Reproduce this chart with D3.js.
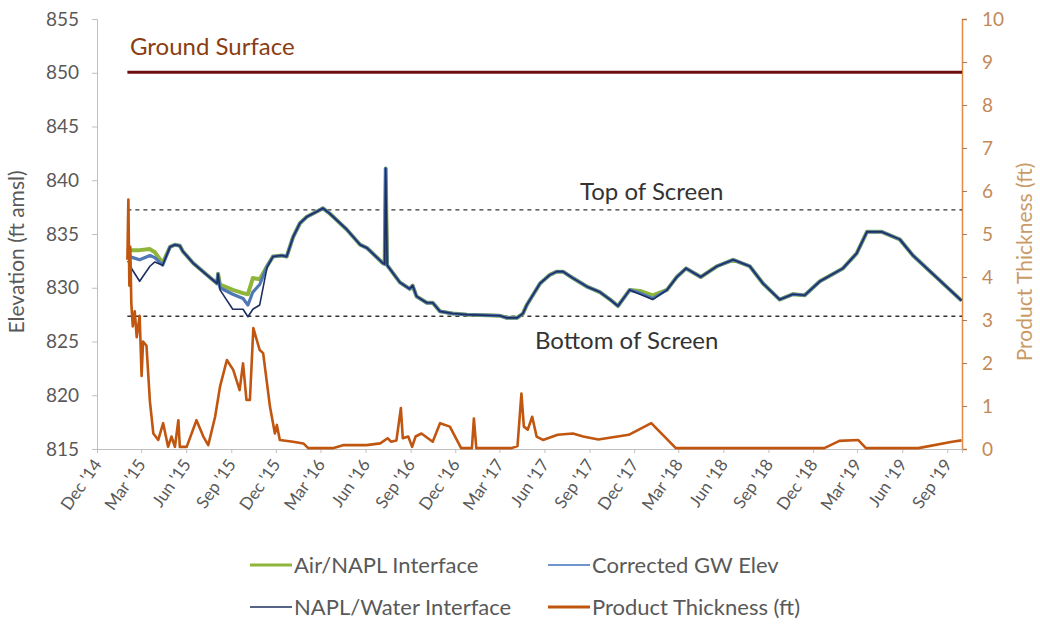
<!DOCTYPE html>
<html>
<head>
<meta charset="utf-8">
<script src="https://cdn.jsdelivr.net/npm/d3@7"></script>
<style>
  body { margin: 0; background: #fff; }
  svg { display: block; font-family: Lato, "Open Sans", sans-serif; }
</style>
</head>
<body>
<script>
// ---------------- DATA ----------------
const leftTicks = [815, 820, 825, 830, 835, 840, 845, 850, 855];
const rightTicks = [0, 1, 2, 3, 4, 5, 6, 7, 8, 9, 10];
const xTickDates = ["2014-12-01","2015-03-01","2015-06-01","2015-09-01","2015-12-01","2016-03-01","2016-06-01","2016-09-01","2016-12-01","2017-03-01","2017-06-01","2017-09-01","2017-12-01","2018-03-01","2018-06-01","2018-09-01","2018-12-01","2019-03-01","2019-06-01","2019-09-01"];

const refDates = ["2015-02-01", "2019-10-01"];
const groundSurface = [850.05, 850.05];
const topOfScreen = [837.25, 837.25];
const bottomOfScreen = [827.35, 827.35];

const gwDates = ["2015-02-02","2015-02-12","2015-02-26","2015-03-19","2015-03-29","2015-04-14","2015-04-29","2015-05-09","2015-05-19","2015-05-25",
"2015-06-15","2015-07-13","2015-08-03","2015-08-05","2015-08-09","2015-09-04","2015-09-25","2015-10-05","2015-10-15","2015-10-29",
"2015-11-13","2015-11-25","2015-12-13","2015-12-23","2016-01-05","2016-01-19","2016-02-02","2016-02-23","2016-03-06","2016-03-20",
"2016-04-24","2016-05-21","2016-06-04","2016-07-06","2016-07-10","2016-07-12","2016-07-15","2016-08-10","2016-08-30","2016-09-05",
"2016-09-13","2016-10-04","2016-10-16","2016-10-31","2016-11-26","2016-12-25","2017-03-02","2017-03-16","2017-04-06","2017-04-18",
"2017-04-26","2017-05-23","2017-06-12","2017-06-26","2017-07-09","2017-07-29","2017-08-27","2017-09-22","2017-10-13","2017-10-29",
"2017-11-22","2017-12-13","2018-01-08","2018-02-06","2018-02-26","2018-03-17","2018-04-16","2018-05-19","2018-06-21","2018-07-25",
"2018-08-21","2018-09-24","2018-10-21","2018-11-14","2018-12-15","2019-01-31","2019-02-28","2019-03-21","2019-04-20","2019-05-27",
"2019-06-23","2019-09-30"];

const airNaplInterface = [833.5,833.5,833.5,833.6,833.3,832.3,833.8,834.0,833.9,833.4,
832.3,831.2,830.4,831.3,830.3,829.8,829.5,829.4,830.9,830.8,
832.0,832.9,833.0,832.9,834.7,836.0,836.6,837.1,837.4,836.9,
835.4,834.0,833.7,832.3,832.2,841.1,832.1,830.5,829.9,830.2,
829.2,828.6,828.6,827.8,827.6,827.5,827.4,827.2,827.2,827.6,
828.4,830.4,831.2,831.5,831.5,830.9,830.1,829.6,828.9,828.3,
829.8,829.7,829.3,829.8,831.0,831.8,831.0,832.0,832.6,832.0,
830.4,828.9,829.4,829.3,830.6,831.8,833.2,835.2,835.2,834.5,
833.0,828.8];

const correctedGwElev = [833.0,832.8,832.6,833.0,832.8,832.1,833.8,834.0,833.9,833.4,
832.3,831.2,830.4,831.3,830.0,829.4,829.0,828.4,829.6,830.3,
832.0,832.9,833.0,832.9,834.7,836.0,836.6,837.1,837.4,836.9,
835.4,834.0,833.7,832.3,832.2,841.1,832.1,830.5,829.9,830.2,
829.2,828.6,828.6,827.8,827.6,827.5,827.4,827.2,827.2,827.6,
828.4,830.4,831.2,831.5,831.5,830.9,830.1,829.6,828.9,828.3,
829.8,829.5,829.0,829.8,831.0,831.8,831.0,832.0,832.6,832.0,
830.4,828.9,829.4,829.3,830.6,831.8,833.2,835.2,835.2,834.5,
833.0,828.8];

const naplWaterInterface = [832.5,831.6,830.6,832.0,832.4,832.1,833.8,834.0,833.9,833.4,
832.3,831.2,830.4,831.3,829.8,828.0,828.0,827.3,828.0,828.4,
831.9,832.9,833.0,832.9,834.7,836.0,836.6,837.1,837.4,836.9,
835.4,834.0,833.7,832.3,832.2,841.1,832.1,830.5,829.9,830.2,
829.2,828.6,828.6,827.8,827.6,827.5,827.4,827.2,827.2,827.6,
828.4,830.4,831.2,831.5,831.5,830.9,830.1,829.6,828.9,828.3,
829.8,829.4,828.9,829.8,831.0,831.8,831.0,832.0,832.6,832.0,
830.4,828.9,829.4,829.3,830.6,831.8,833.2,835.2,835.2,834.5,
833.0,828.8];

const ptDates = ["2015-02-01","2015-02-03","2015-02-05","2015-02-07","2015-02-09","2015-02-12","2015-02-16","2015-02-20","2015-02-26","2015-03-02",
"2015-03-05","2015-03-12","2015-03-19","2015-03-26","2015-04-05","2015-04-15","2015-04-25","2015-05-02","2015-05-09","2015-05-16",
"2015-05-19","2015-06-02","2015-06-22","2015-07-06","2015-07-16","2015-07-30","2015-08-09","2015-08-23","2015-09-05","2015-09-18",
"2015-09-25","2015-10-02","2015-10-09","2015-10-16","2015-10-29","2015-11-05","2015-11-19","2015-11-29","2015-12-03","2015-12-09",
"2016-01-05","2016-01-26","2016-02-05","2016-03-26","2016-04-16","2016-06-03","2016-07-01","2016-07-16","2016-07-23","2016-08-03",
"2016-08-12","2016-08-16","2016-08-27","2016-09-04","2016-09-11","2016-09-23","2016-10-16","2016-10-31","2016-11-20","2016-12-13",
"2017-01-04","2017-01-08","2017-01-13","2017-03-26","2017-04-07","2017-04-15","2017-04-20","2017-04-28","2017-05-07","2017-05-16",
"2017-05-29","2017-06-28","2017-07-29","2017-08-19","2017-09-19","2017-11-20","2018-01-05","2018-02-24","2018-12-24","2019-01-24",
"2019-03-03","2019-03-19","2019-07-04","2019-09-11","2019-09-30"];
const productThickness = [4.4,5.8,3.8,4.7,3.4,2.85,3.2,2.6,3.1,1.7,
2.5,2.4,1.1,0.36,0.21,0.6,0.05,0.29,0.05,0.67,
0.05,0.05,0.67,0.29,0.09,0.75,1.45,2.07,1.84,1.37,
1.99,1.14,1.14,2.81,2.30,2.23,0.98,0.36,0.56,0.21,
0.17,0.13,0.02,0.02,0.09,0.09,0.13,0.25,0.17,0.2,
0.95,0.25,0.29,0.05,0.29,0.36,0.17,0.6,0.52,0.02,
0.02,0.71,0.02,0.02,0.07,1.29,0.52,0.45,0.75,0.29,
0.21,0.33,0.36,0.29,0.22,0.33,0.6,0.02,0.02,0.19,
0.21,0.02,0.02,0.17,0.2];

const legendLabels = ["Air/NAPL Interface","Corrected GW Elev","NAPL/Water Interface","Product Thickness (ft)"];

// ---------------- CHART ----------------
const W = 1040, H = 624;
const parse = d3.utcParse("%Y-%m-%d");
const svg = d3.select("body").append("svg").attr("width", W).attr("height", H);
svg.append("rect").attr("width", W).attr("height", H).attr("fill", "#fff");

const plot = { left: 97, right: 962, top: 19, bottom: 449 };
const x = d3.scaleUtc().domain([parse("2014-12-01"), parse("2019-10-01")]).range([plot.left, plot.right]);
const yL = d3.scaleLinear().domain([815, 855]).range([plot.bottom, plot.top]);
const yR = d3.scaleLinear().domain([0, 10]).range([plot.bottom, plot.top]);

const gray = "#595959";

// Left axis
const gL = svg.append("g").attr("transform", `translate(${plot.left},0)`)
  .call(d3.axisLeft(yL).tickValues(leftTicks).tickSize(5).tickPadding(13));
gL.select(".domain").attr("stroke", "#bfbfbf");
gL.selectAll(".tick line").attr("stroke", "#bfbfbf");
gL.selectAll("text").attr("fill", gray).style("font-size", "19px").style("font-family", "Lato");

// Right axis
const orangeAxis = "#e08a45";
const gR = svg.append("g").attr("transform", `translate(${plot.right},0)`)
  .call(d3.axisRight(yR).tickValues(rightTicks).tickSize(5).tickPadding(15));
gR.select(".domain").attr("stroke", orangeAxis).attr("stroke-width", 1.5);
gR.selectAll(".tick line").attr("stroke", "#b07a55");
gR.selectAll("text").attr("fill", "#c28a5a").style("font-size", "19px").style("font-family", "Lato");

// Bottom axis
const gB = svg.append("g").attr("transform", `translate(0,${plot.bottom})`)
  .call(d3.axisBottom(x).tickValues(xTickDates.map(parse)).tickSize(4).tickFormat(d3.utcFormat("%b '%y")));
gB.select(".domain").attr("stroke", "#bfbfbf");
gB.selectAll(".tick line").attr("stroke", "#bfbfbf");
gB.selectAll("text")
  .attr("x", 0).attr("y", 0).attr("dy", "0.35em")
  .attr("transform", "translate(0,12) rotate(-55)")
  .style("text-anchor", "end")
  .attr("fill", gray).style("font-size", "17px").style("font-family", "Lato");

// Axis titles
svg.append("text").attr("transform", "translate(24,252) rotate(-90)")
  .attr("text-anchor", "middle").attr("fill", gray).style("font-size", "21px")
  .text("Elevation (ft amsl)");
svg.append("text").attr("transform", "translate(1032,262) rotate(-90)")
  .attr("text-anchor", "middle").attr("fill", "#c99a66").style("font-size", "21px")
  .text("Product Thickness (ft)");

// Reference lines
const refLine = d3.line().x((d, i) => x(parse(refDates[i]))).y(d => yL(d));
svg.append("path").datum(groundSurface).attr("d", refLine)
  .attr("fill", "none").attr("stroke", "#6e0e10").attr("stroke-width", 3);
svg.append("path").datum(topOfScreen).attr("d", refLine)
  .attr("fill", "none").attr("stroke", "#333").attr("stroke-width", 1.3).attr("stroke-dasharray", "4,4");
svg.append("path").datum(bottomOfScreen).attr("d", refLine)
  .attr("fill", "none").attr("stroke", "#333").attr("stroke-width", 1.3).attr("stroke-dasharray", "4,4");

svg.append("text").attr("x", 130).attr("y", 55).attr("fill", "#8a3d12").style("font-size", "24px").text("Ground Surface");
svg.append("text").attr("x", 580).attr("y", 200).attr("fill", "#333").style("font-size", "24px").text("Top of Screen");
svg.append("text").attr("x", 535).attr("y", 349).attr("fill", "#333").style("font-size", "24px").text("Bottom of Screen");

// Series
const gwLine = d3.line().x((d, i) => x(parse(gwDates[i]))).y(d => yL(d));
svg.append("path").datum(airNaplInterface).attr("d", gwLine)
  .attr("fill", "none").attr("stroke", "#8fb53a").attr("stroke-width", 4).attr("stroke-linejoin", "round");
svg.append("path").datum(correctedGwElev).attr("d", gwLine)
  .attr("fill", "none").attr("stroke", "#4f78b5").attr("stroke-width", 3.2).attr("stroke-linejoin", "round");
svg.append("path").datum(naplWaterInterface).attr("d", gwLine)
  .attr("fill", "none").attr("stroke", "#1e2f5e").attr("stroke-width", 1.6).attr("stroke-linejoin", "round");

const ptLine = d3.line().x((d, i) => x(parse(ptDates[i]))).y(d => yR(d));
svg.append("path").datum(productThickness).attr("d", ptLine)
  .attr("fill", "none").attr("stroke", "#c0560f").attr("stroke-width", 2.6).attr("stroke-linejoin", "round");

// Legend
const legendColors = ["#8fb53a", "#6f95cc", "#1e2f5e", "#c0560f"];
const legendWidths = [3, 2.2, 1.5, 3];
const legendPos = [[250, 565], [548, 565], [250, 607], [548, 607]];
legendLabels.forEach((lab, i) => {
  const [lx, ly] = legendPos[i];
  svg.append("line").attr("x1", lx).attr("x2", lx + 42).attr("y1", ly).attr("y2", ly)
    .attr("stroke", legendColors[i]).attr("stroke-width", legendWidths[i]);
  svg.append("text").attr("x", lx + 44).attr("y", ly).attr("dy", "0.35em")
    .attr("fill", gray).style("font-size", "22px").text(lab);
});
</script>
</body>
</html>
